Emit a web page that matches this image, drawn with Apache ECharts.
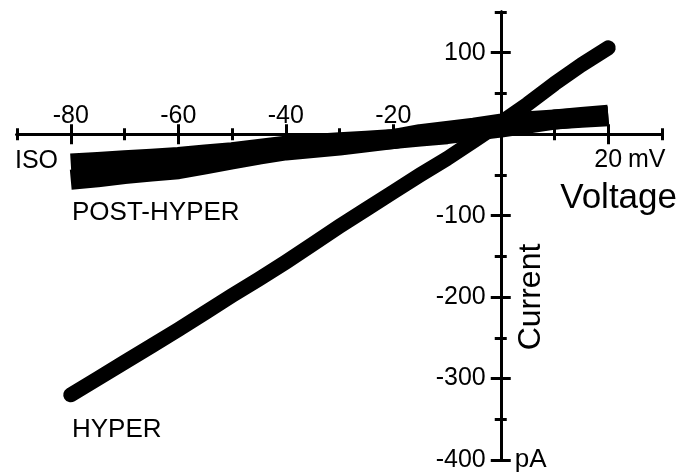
<!DOCTYPE html>
<html><head><meta charset="utf-8">
<script src="https://cdn.jsdelivr.net/npm/echarts@6/dist/echarts.min.js"></script>
<style>html,body{margin:0;padding:0;background:#fff}#c{width:680px;height:474px}</style>
</head><body><div id="c"></div>
<script>
// Voltage steps (mV) and currents (pA)
const voltage = [-80,-75,-70,-65,-60,-55,-50,-45,-40,-35,-30,-25,-20,-15,-10,-5,0,5,10,15,20];
const isoCurrent = [-36,-34,-32,-30,-28,-25,-22,-18,-14,-12,-10,-8,-6,-3,0,4,8,13,18,21,24];
const postHyperCurrent = [-56,-53,-49,-46,-43,-37,-31,-25,-20,-17,-14,-10,-6,0,4,8,13,16,18,20,22];
const hyperCurrent = [-320,-300,-280,-260,-240,-219,-198,-178,-157,-135,-113,-92,-71,-50,-30,-8,14,37,62,85,106];

const xMajorTicks = [-80,-60,-40,-20,0,20];
const xMinorTicks = [-90,-70,-50,-30,-10,10,30];
const xTopLabels = [-80,-60,-40,-20];
const xBottomLabels = [20];
const yMajorTicks = [100,0,-100,-200,-300,-400];
const yMinorTicks = [150,50,-50,-150,-250,-350];
const yLeftLabels = [100,-100,-200,-300,-400];
const yRightLabels = [-400];

const FONT = 'Liberation Sans, Arial, sans-serif';
const BLACK = '#000';

// layout of the grid (pixels)
const G = {left: 17, right: 18, top: 12, bottom: 14, w: 680, h: 474};
const X_RANGE = [-90, 30], Y_RANGE = [-400, 150];
const plotW = G.w - G.left - G.right, plotH = G.h - G.top - G.bottom;
const zeroX = G.left + (0 - X_RANGE[0]) / (X_RANGE[1] - X_RANGE[0]) * plotW;   // where x = 0 mV sits
const zeroY = G.top + (Y_RANGE[1] - 0) / (Y_RANGE[1] - Y_RANGE[0]) * plotH;    // where y = 0 pA sits

function pairs(ys){ return voltage.map((v,i)=>[v, ys[i]]); }

function axisCfg(kind, position, ticks, len, labels, labelOpts){
  const isX = kind === 'x';
  let offset;
  if (position === 'top') offset = -(zeroY - G.top);
  else if (position === 'bottom') offset = -(G.h - G.bottom - zeroY);
  else if (position === 'left') offset = -(zeroX - G.left);
  else offset = -(G.w - G.right - zeroX);
  const lo = labelOpts || {};
  return {
    type: 'value',
    position: position,
    offset: offset,
    min: isX ? X_RANGE[0] : Y_RANGE[0],
    max: isX ? X_RANGE[1] : Y_RANGE[1],
    axisLine: {show: true, onZero: false, lineStyle: {color: BLACK, width: 3}},
    axisTick: {show: true, customValues: ticks, length: len, lineStyle: {color: BLACK, width: 3}},
    axisLabel: labels ? {show: true, customValues: labels, color: BLACK, fontFamily: FONT,
      fontSize: lo.size || 25, margin: lo.margin != null ? lo.margin : 12,
      formatter: lo.formatter || (v => String(v))} : {show: false},
    splitLine: {show: false}
  };
}

const chart = echarts.init(document.getElementById('c'), null, {renderer: 'canvas'});
chart.setOption({
  animation: false,
  backgroundColor: '#fff',
  grid: {left: G.left, right: G.right, top: G.top, bottom: G.bottom, containLabel: false, outerBoundsMode: 'none'},
  xAxis: [
    axisCfg('x', 'top', xMajorTicks, 10, xTopLabels, {margin: 6}),
    axisCfg('x', 'top', xMinorTicks, 6, null),
    axisCfg('x', 'bottom', xMajorTicks, 10, xBottomLabels, {margin: 13}),
    axisCfg('x', 'bottom', xMinorTicks, 6, null)
  ],
  yAxis: [
    axisCfg('y', 'left', yMajorTicks, 10, yLeftLabels, {margin: 15}),
    axisCfg('y', 'left', yMinorTicks, 6, null),
    axisCfg('y', 'right', yMajorTicks, 10, yRightLabels, {margin: 14, size: 26, formatter: () => 'pA'}),
    axisCfg('y', 'right', yMinorTicks, 6, null)
  ],
  series: [
    {name: 'ISO', type: 'line', data: pairs(isoCurrent), showSymbol: false, symbol: 'none',
     lineStyle: {color: BLACK, width: 20, cap: 'butt', join: 'round'}, z: 3},
    {name: 'POST-HYPER', type: 'line', data: pairs(postHyperCurrent), showSymbol: false, symbol: 'none',
     lineStyle: {color: BLACK, width: 20, cap: 'butt', join: 'round'}, z: 3},
    {name: 'HYPER', type: 'line', data: pairs(hyperCurrent), showSymbol: false, symbol: 'none',
     lineStyle: {color: BLACK, width: 15, cap: 'round', join: 'round'}, z: 3}
  ],
  graphic: [
    {type: 'text', x: 15, y: 161, style: {text: 'ISO', fill: BLACK, font: '25px ' + FONT, textAlign: 'left', textVerticalAlign: 'middle'}},
    {type: 'text', x: 72, y: 213, style: {text: 'POST-HYPER', fill: BLACK, font: '26px ' + FONT, textAlign: 'left', textVerticalAlign: 'middle'}},
    {type: 'text', x: 72, y: 430, style: {text: 'HYPER', fill: BLACK, font: '26px ' + FONT, textAlign: 'left', textVerticalAlign: 'middle'}},
    {type: 'text', x: 628, y: 160, style: {text: 'mV', fill: BLACK, font: '25px ' + FONT, textAlign: 'left', textVerticalAlign: 'middle'}},
    {type: 'text', x: 677, y: 198, style: {text: 'Voltage', fill: BLACK, font: '35px ' + FONT, textAlign: 'right', textVerticalAlign: 'middle'}},
    {type: 'text', x: 531, y: 297, rotation: Math.PI / 2, style: {text: 'Current', fill: BLACK, font: '32px ' + FONT, textAlign: 'center', textVerticalAlign: 'middle'}}
  ]
});
</script></body></html>
